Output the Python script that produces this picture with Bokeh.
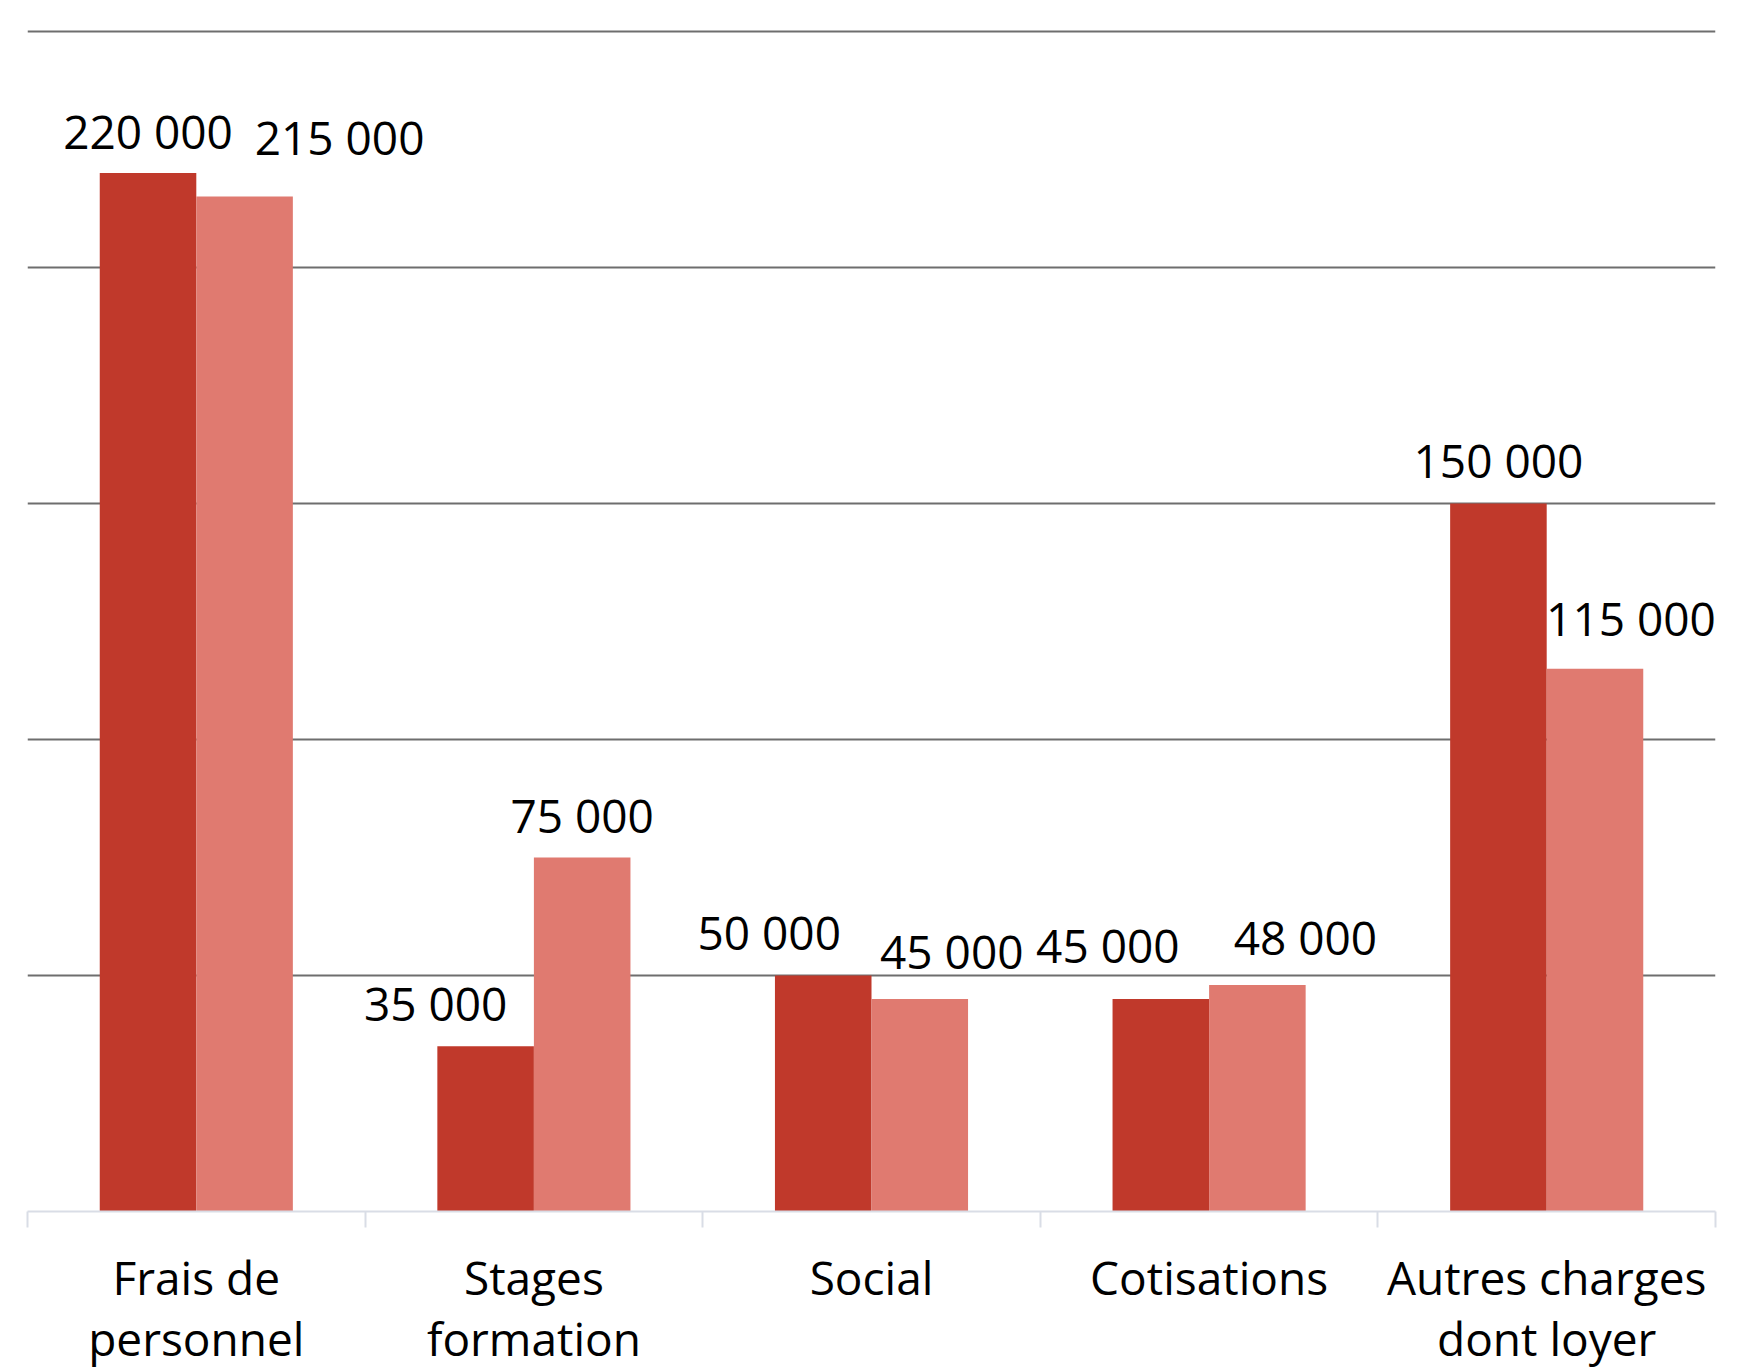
from bokeh.plotting import figure
from bokeh.models import ColumnDataSource, FixedTicker, LabelSet, Range1d
from bokeh.core.properties import value
from bokeh.embed import file_html
from bokeh.resources import INLINE
import numpy as np

# ---- data ----
categories = ["Frais de\npersonnel", "Stages\nformation", "Social", "Cotisations", "Autres charges\ndont loyer"]
series_a = [220000, 35000, 50000, 45000, 150000]
series_b = [215000, 75000, 45000, 48000, 115000]
y_ticks = [0, 50000, 100000, 150000, 200000, 250000]

# ---- styling (label nudges in pixels, as placed in the original) ----
label_dx_a = [0, -50, -54, -53, 0]
label_dy_a = [42, 43, 43, 54, 43]
label_dx_b = [95, 0, 32, 48, 36]
label_dy_b = [60, 42, 48, 48, 51]
color_a = "#C0392B"
color_b = "#E07A70"
FONT = "Open Sans"
BAR_W = 0.286

n = len(categories)
centers = np.arange(n) + 0.5

def fmt(v):
    return f"{v:,}".replace(",", " ")

src_a = ColumnDataSource(dict(x=centers - BAR_W / 2, top=series_a,
                              txt=[fmt(v) for v in series_a], dx=label_dx_a, dy=label_dy_a))
src_b = ColumnDataSource(dict(x=centers + BAR_W / 2, top=series_b,
                              txt=[fmt(v) for v in series_b], dx=label_dx_b, dy=label_dy_b))

p = figure(frame_width=1688, frame_height=1182, output_backend="svg", toolbar_location=None,
           x_range=Range1d(0, n), y_range=Range1d(0, 250400),
           min_border_left=27, min_border_right=24, min_border_top=29, min_border_bottom=0)
p.outline_line_color = None
p.background_fill_color = "white"
p.border_fill_color = "white"

p.vbar(x="x", top="top", width=BAR_W, bottom=0, source=src_a, fill_color=color_a, line_color=None)
p.vbar(x="x", top="top", width=BAR_W, bottom=0, source=src_b, fill_color=color_b, line_color=None)

for src in (src_a, src_b):
    p.add_layout(LabelSet(x="x", y="top", text="txt", source=src, x_offset="dx", y_offset="dy",
                          text_align="center", text_baseline="middle",
                          text_font=value(FONT), text_font_size="46px", text_color="#000000"))

# y axis hidden, grid only
p.yaxis.visible = False
p.yaxis.ticker = FixedTicker(ticks=y_ticks)
p.ygrid.ticker = FixedTicker(ticks=y_ticks[1:])
p.ygrid.grid_line_color = "#6e6e6e"
p.ygrid.grid_line_width = 2
p.xgrid.visible = False

# x axis: labels at category centers, ticks at boundaries
xa = p.xaxis[0]
xa.ticker = FixedTicker(ticks=list(centers), minor_ticks=list(np.arange(n + 1)))
xa.major_label_overrides = {float(c): lab for c, lab in zip(centers, categories)}
xa.major_tick_out = 0
xa.major_tick_in = 0
xa.minor_tick_out = 16
xa.minor_tick_in = 0
xa.minor_tick_line_color = "#d9dde6"
xa.minor_tick_line_width = 2
xa.axis_line_color = "#d9dde6"
xa.axis_line_width = 2
xa.major_label_text_font = FONT
xa.major_label_text_font_size = "46px"
xa.major_label_text_line_height = 0.99
xa.major_label_text_color = "#000000"
xa.major_label_standoff = 18

open("out.html", "w").write(file_html(p, INLINE))
